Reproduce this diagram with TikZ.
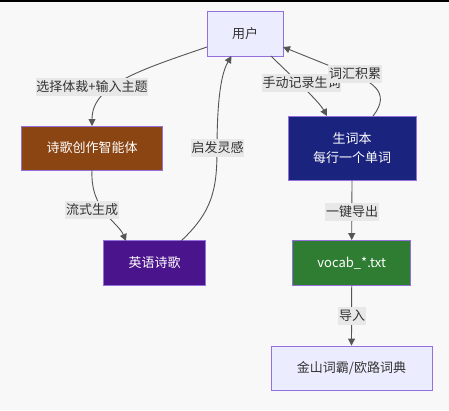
\documentclass[tikz,border=0pt]{standalone}
\usepackage{fontspec}
\newfontfamily\cjk{Noto Sans CJK SC}
\usetikzlibrary{arrows.meta}
\definecolor{bgc}{HTML}{F8F8F8}
\definecolor{nodefill}{HTML}{ECECFF}
\definecolor{nodeborder}{HTML}{9370DB}
\definecolor{brownfill}{HTML}{8B4513}
\definecolor{purplefill}{HTML}{4A148C}
\definecolor{navyfill}{HTML}{1A237E}
\definecolor{greenfill}{HTML}{2E7D32}
\definecolor{edgec}{HTML}{555555}
\definecolor{labelbg}{HTML}{E8E8E8}
\definecolor{textc}{HTML}{333333}
\tikzset{
  box/.style={draw=nodeborder, line width=0.9pt, inner sep=0pt, align=center,
    font=\cjk\fontsize{13}{19}\selectfont},
  lightbox/.style={box, fill=nodefill, text=textc},
  darkbox/.style={box, text=white},
  elabel/.style={fill=labelbg, text=textc, inner xsep=0.8pt, inner ysep=0pt,
    minimum height=18pt, font=\cjk\fontsize{13}{16}\selectfont},
  conn/.style={draw=edgec, line width=0.9pt, -{Triangle[length=7pt,width=7pt]}},
}
\begin{document}
\begin{tikzpicture}[x=1pt,y=-1pt]
\useasboundingbox (0,0) rectangle (449,410);
\fill[bgc] (0,0) rectangle (449,410);
\draw[black, line width=1.5pt] (0,0.75) -- (449,0.75);

\node[lightbox, minimum width=76pt, minimum height=45pt] (user) at (245,33.5) {用户};
\node[darkbox, fill=brownfill, minimum width=141pt, minimum height=44pt] (agent) at (92,148) {诗歌创作智能体};
\node[darkbox, fill=purplefill, minimum width=102pt, minimum height=45pt] (poem) at (154.5,263) {英语诗歌};
\node[darkbox, fill=navyfill, minimum width=128pt, minimum height=64pt] (vocab) at (352,148) {生词本\\每行一个单词};
\node[darkbox, fill=greenfill, minimum width=118pt, minimum height=45pt] (txt) at (351.7,263) {vocab\_*.txt};
\node[lightbox, minimum width=161pt, minimum height=44pt] (dict) at (351.5,368) {金山词霸/欧路词典};

\coordinate (e1a) at (207,47);
\coordinate (e1b) at (92,126);
\draw[conn] (e1a) .. controls (140,70) and (92,85) .. (e1b);
\coordinate (e2a) at (92,170);
\coordinate (e2b) at (126,241);
\draw[conn] (e2a) .. controls (90,210) and (118,222) .. (e2b);
\coordinate (e3a) at (181,241);
\coordinate (e3m) at (217,150);
\coordinate (e3b) at (231.5,56);
\draw[conn] (e3a) .. controls (212,212) and (217,190) .. (e3m) .. controls (217,95) and (222,72) .. (e3b);
\coordinate (e4a) at (271,56);
\coordinate (e4b) at (327,116);
\draw[conn] (e4a) .. controls (290,75) and (318,100) .. (e4b);
\coordinate (e5a) at (373,116);
\coordinate (e5m) at (340,70);
\coordinate (e5b) at (283,47);
\draw[conn] (e5a) .. controls (392,92) and (372,80) .. (e5m) -- (e5b);
\draw[conn] (vocab.south) -- (txt.north);
\draw[conn] (txt.south) -- (dict.north);

\node[elabel] (l1) at (92,87) {选择体裁+输入主题};
\node[elabel] (l2) at (92,210) {流式生成};
\node[elabel] (l3) at (217.5,148) {启发灵感};
\node[elabel] (l4) at (301.5,83) {手动记录生词};
\node[elabel] (l5) at (355,74) {词汇积累};
\node[elabel] (l6) at (352,212) {一键导出};
\node[elabel] (l7) at (352,315.5) {导入};
\end{tikzpicture}
\end{document}
